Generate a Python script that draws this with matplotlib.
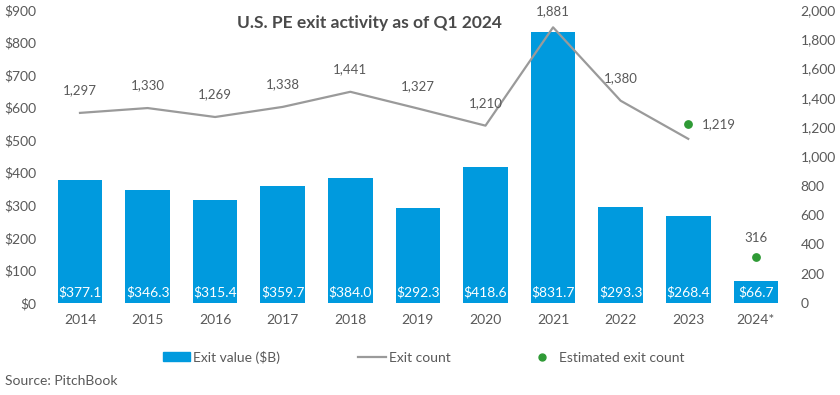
import matplotlib
matplotlib.use("Agg")
import matplotlib.pyplot as plt
from matplotlib.lines import Line2D
from matplotlib.patches import Patch

plt.rcParams["font.family"] = ["Lato", "DejaVu Sans"]

years = ["2014", "2015", "2016", "2017", "2018", "2019", "2020", "2021", "2022", "2023", "2024*"]
exit_value = [377.1, 346.3, 315.4, 359.7, 384.0, 292.3, 418.6, 831.7, 293.3, 268.4, 66.7]
exit_count = [1297, 1330, 1269, 1338, 1441, 1327, 1210, 1881, 1380, 1120]
count_labels = ["1,297", "1,330", "1,269", "1,338", "1,441", "1,327", "1,210", "1,881", "1,380", ""]
est_years = ["2023", "2024*"]
est_count = [1219, 316]
est_labels = ["1,219", "316"]

BLUE = "#009ade"
GREY_LINE = "#9a9a9a"
GREEN = "#2e9a35"
TXT = "#595959"

fig = plt.figure(figsize=(8.4, 3.95), dpi=100)
ax = fig.add_axes([0.055, 0.233, 0.885, 0.742])
ax2 = ax.twinx()

x = list(range(len(years)))
ax.bar(x, exit_value, width=0.66, color=BLUE, zorder=1)
for xi, v in zip(x, exit_value):
    ax.text(xi, 34, f"${v:.1f}", color="white", ha="center", va="center", fontsize=10)

ax.set_ylim(0, 900)
ax.set_xlim(-0.5, 10.5)
ax.set_yticks(range(0, 901, 100))
ax.set_yticklabels([f"${v}" for v in range(0, 901, 100)])
ax.set_xticks(x)
ax.set_xticklabels(years)

ax2.set_ylim(0, 2000)
ax2.set_yticks(range(0, 2001, 200))
ax2.set_yticklabels([f"{v:,}" for v in range(0, 2001, 200)])

lx = x[:len(exit_count)]
ax2.plot(lx, exit_count, color=GREY_LINE, lw=1.6, zorder=3)
top = max(exit_count)
for xi, v, lab in zip(lx, exit_count, count_labels):
    if lab:
        ax2.annotate(lab, (xi, v), xytext=(0, 7 if v == top else 12), textcoords="offset points",
                     ha="center", va="bottom", fontsize=9.5, color=TXT)

ex = [years.index(y) for y in est_years]
ax2.scatter(ex, est_count, s=28, color=GREEN, zorder=4)
ax2.annotate(est_labels[0], (ex[0], est_count[0]), xytext=(10, 0), textcoords="offset points",
             ha="left", va="center", fontsize=9.5, color=TXT)
ax2.annotate(est_labels[1], (ex[1], est_count[1]), xytext=(0, 9), textcoords="offset points",
             ha="center", va="bottom", fontsize=9.5, color=TXT)

for a in (ax, ax2):
    for s in a.spines.values():
        s.set_visible(False)
    a.tick_params(length=0, labelsize=10, colors=TXT)
ax.tick_params(axis="x", pad=8)
ax.tick_params(axis="y", pad=7)
ax2.tick_params(axis="y", pad=8)

fig.text(0.44, 0.942, "U.S. PE exit activity as of Q1 2024", ha="center", va="center",
         fontsize=12.5, fontweight="bold", color="#4a4a4a")

handles = [Patch(color=BLUE), Line2D([], [], color=GREY_LINE, lw=1.6),
           Line2D([], [], marker="o", color=GREEN, ls="", markersize=5)]
fig.legend(handles, ["Exit value ($B)", "Exit count", "Estimated exit count"],
           loc="center", bbox_to_anchor=(0.504, 0.096), ncol=3, frameon=False,
           fontsize=10, labelcolor=TXT, handlelength=2.0, handleheight=0.55,
           handletextpad=0.2, columnspacing=5.6)

fig.text(0.006, 0.035, "Source: PitchBook", ha="left", va="center", fontsize=10, color=TXT)

fig.savefig("out.png", dpi=100)
